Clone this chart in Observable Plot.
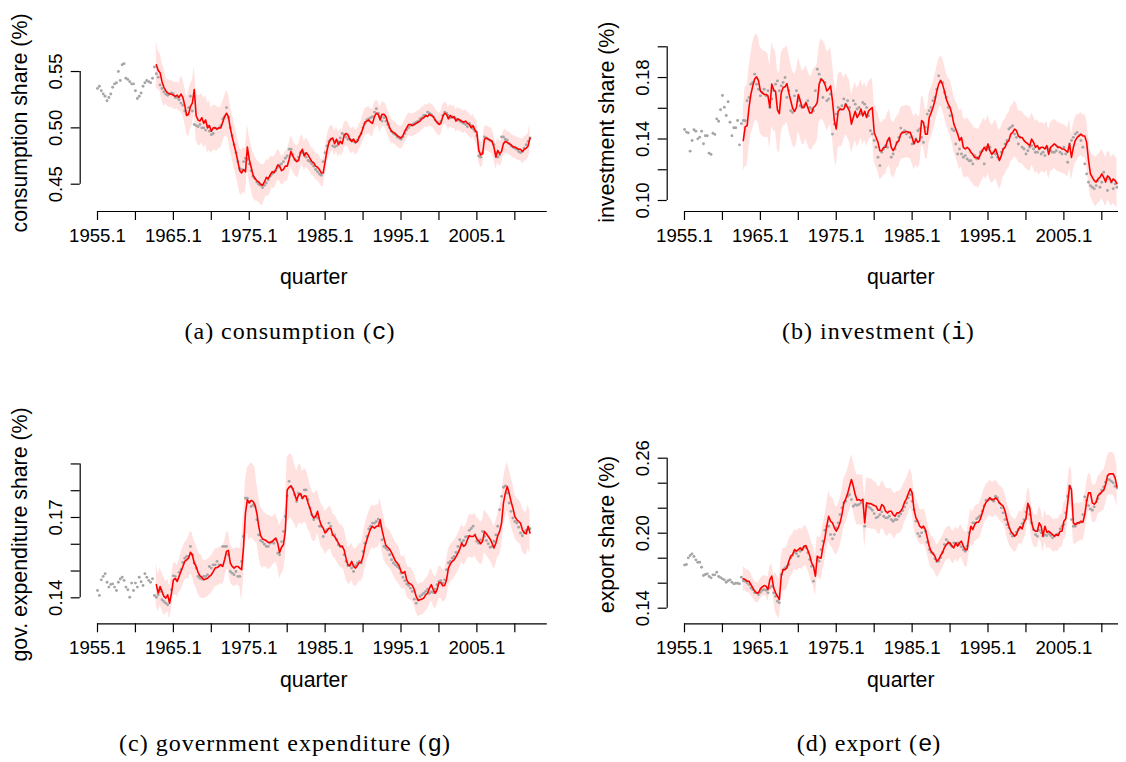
<!DOCTYPE html>
<html><head><meta charset="utf-8">
<script src="https://cdn.jsdelivr.net/npm/d3@7"></script>
<script src="https://cdn.jsdelivr.net/npm/@observablehq/plot@0.6"></script>
<style>
html,body{margin:0;padding:0;background:#fff;overflow:hidden;}
#page{position:relative;width:1126px;height:762px;background:#fff;}
.cell{position:absolute;overflow:hidden;}
#captions{position:absolute;left:0;top:0;}
</style></head><body><div id="page"></div>
<script>
// ---------- time axis ----------
const obsStart = 1955;      // first observed quarter: 1955.1
const fitStart = 1962.75;   // first filtered quarter: 1962.4
const bandStartYear = 1962; // band half-widths are given per year from 1962
const xTickYears  = [1955,1960,1965,1970,1975,1980,1985,1990,1995,2000,2005,2010];
const xTickLabels = ["1955.1","1960.1","1965.1","1970.1","1975.1","1980.1","1985.1","1990.1","1995.1","2000.1","2005.1","2010.1"];
const xTitle = "quarter";

// ---------- (a) consumption ----------
const consTicks  = [0.45,0.50,0.55];
const consLabels = ["0.45","0.50","0.55"];
const consObs = [
.535,.537,.533,.530, .528,.524,.527,.530, .536,.539,.540,.550, .542,.556,.557,.544, .543,.541,.539,.539,
.533,.526,.528,.531, .537,.540,.542,.541, .540,.544,.554,.548, .545,.538,.535,.532, .530,.529,.530,.531,
.530,.527,.527,.525, .522,.520,.515,.512, .518,.528,.515,.503, .502,.501,.503,.500, .500,.498,.502,.497,
.494,.495,.500,.499, .500,.502,.508,.510, .518,.509,.500,.493, .485,.478,.470,.464, .463,.470,.473,.472,
.468,.462,.457,.455, .452,.450,.449,.447, .449,.451,.454,.457, .459,.461,.462,.465, .467,.468,.470,.473,
.475,.481,.481,.476, .472,.471,.474,.478, .478,.477,.474,.471, .470,.468,.466,.463, .461,.459,.458,.470,
.478,.484,.488,.490, .484,.483,.484,.488, .491,.495,.494,.492, .490,.490,.489,.488, .487,.489,.492,.495,
.500,.504,.507,.508, .509,.510,.514,.517, .513,.510,.506,.509, .506,.503,.500,.497, .495,.494,.492,.491,
.490,.492,.495,.498, .500,.502,.503,.504, .505,.506,.508,.509, .511,.511,.514,.513, .512,.510,.507,.505,
.504,.506,.511,.514, .513,.511,.509,.510, .509,.508,.507,.506, .505,.504,.503,.501, .504,.502,.499,.497,
.493,.475,.474,.478, .492,.491,.490,.489, .488,.485,.478,.474, .476,.492,.492,.490, .489,.486,.484,.483,
.482,.481,.479,.478, .479,.482,.485,.488, .491];
const consFit = [.556,
.551,.549,.541,.536, .533,.531,.530,.530, .529,.528,.529,.527, .530,.527,.520,.511, .512,.519,.522,.534,
.511,.507,.506,.509, .504,.507,.500,.502, .497,.500,.500,.499, .500,.500,.505,.510, .513,.510,.500,.492,
.485,.478,.470,.462, .460,.463,.461,.483, .472,.465,.458,.455, .453,.452,.450,.449, .452,.456,.455,.458,
.461,.460,.463,.467, .466,.462,.463,.466, .466,.472,.479,.475, .472,.470,.471,.478, .481,.475,.478,.476,
.473,.470,.469,.466, .465,.463,.460,.460, .470,.480,.487,.490, .491,.486,.490,.485, .488,.486,.493,.495,
.494,.490,.488,.490, .487,.488,.492,.495, .500,.505,.506,.507, .505,.504,.510,.513, .512,.507,.512,.512,
.510,.505,.500,.497, .496,.495,.493,.492, .491,.493,.497,.500, .503,.503,.502,.503, .504,.505,.506,.508,
.509,.511,.510,.512, .511,.510,.507,.505, .503,.504,.510,.513, .512,.508,.511,.509, .510,.506,.508,.507,
.506,.505,.506,.504, .503,.500,.502,.498, .496,.480,.476,.477, .490,.491,.490,.489, .488,.483,.474,.480,
.477,.479,.486,.488, .487,.486,.485,.483, .483,.482,.481,.481, .479,.481,.482,.484, .491];
const consHalf = [.021,.017,.012,.012,.016,.020,.022,.022,.020,.018,.020,.020,.020,.020,.018,.016,.014,.013,.014,.014,
.013,.012,.012,.012,.011,.011,.011,.011,.012,.012,.011,.011,.010,.010,.010,.010,.010,.010,.010,.010,
.010,.010,.010,.011,.011,.011,.011,.010,.010,.011,.012];

// ---------- (b) investment ----------
const invTicks  = [0.10,0.12,0.14,0.16,0.18,0.20];
const invLabels = ["0.10","","0.14","","0.18",""];
const invObs = [
.1462,.1445,.1440,.1321, .1390,.1460,.1451,.1401, .1412,.1451,.1369,.1421, .1421,.1308,.1300,.1438, .1430,.1531,.1516,.1590,
.1683,.1607,.1553,.1642, .1509,.1421,.1473,.1473, .1520,.1362,.1500,.1520, .1519,.1649,.1670,.1757, .1768,.1822,.1757,.1724,
.1681,.1703,.1724,.1681, .1714,.1605,.1660,.1714, .1757,.1778,.1714,.1746, .1768,.1800,.1670,.1714, .1584,.1573,.1681,.1714,
.1649,.1616,.1605,.1616, .1627,.1649,.1605,.1595, .1584,.1714,.1854,.1822, .1789,.1670,.1768,.1649, .1660,.1692,.1432,.1497,
.1562,.1605,.1595,.1616, .1660,.1627,.1649,.1605, .1530,.1649,.1627,.1595, .1605,.1562,.1638,.1627, .1605,.1551,.1454,.1432,
.1390,.1346,.1281,.1227, .1314,.1335,.1357,.1346, .1390,.1281,.1303,.1335, .1378,.1411,.1471,.1443, .1454,.1432,.1443,.1411,
.1368,.1378,.1400,.1454, .1465,.1411,.1378,.1476, .1562,.1584,.1605,.1649, .1670,.1724,.1811,.1778, .1768,.1703,.1670,.1605,
.1551,.1465,.1454,.1368, .1303,.1335,.1303,.1281, .1292,.1270,.1259,.1259, .1238,.1292,.1270,.1281, .1314,.1324,.1238,.1346,
.1335,.1346,.1281,.1314, .1303,.1281,.1270,.1314, .1335,.1368,.1390,.1465, .1476,.1486,.1432,.1411, .1368,.1411,.1346,.1335,
.1303,.1324,.1346,.1357, .1335,.1314,.1314,.1335, .1303,.1314,.1292,.1346, .1335,.1324,.1314,.1314, .1324,.1346,.1314,.1303,
.1346,.1303,.1249,.1368, .1390,.1411,.1432,.1443, .1422,.1390,.1346,.1238, .1173,.1119,.1097,.1086, .1076,.1097,.1130,.1086,
.1119,.1184,.1141,.1065, .1141,.1119,.1076,.1108, .1086];
const invFit = [.1390,
.1480,.1486,.1605,.1690, .1746,.1790,.1805,.1780, .1713,.1700,.1690,.1690, .1680,.1605,.1757,.1720, .1710,.1590,.1565,.1700,
.1735,.1740,.1760,.1700, .1650,.1600,.1580,.1605, .1690,.1650,.1605,.1605, .1638,.1605,.1570,.1570, .1605,.1616,.1638,.1757,
.1790,.1780,.1757,.1713, .1724,.1746,.1650,.1520, .1465,.1580,.1595,.1590, .1595,.1627,.1605,.1580, .1497,.1540,.1580,.1540,
.1560,.1595,.1550,.1580, .1540,.1580,.1595,.1605, .1443,.1410,.1378,.1324, .1324,.1346,.1346,.1390, .1410,.1346,.1324,.1346,
.1378,.1390,.1432,.1443, .1443,.1450,.1443,.1443, .1410,.1368,.1400,.1378, .1390,.1520,.1508,.1432, .1432,.1540,.1570,.1605,
.1650,.1710,.1757,.1780, .1757,.1713,.1660,.1627, .1605,.1560,.1497,.1465, .1432,.1390,.1410,.1346, .1335,.1346,.1335,.1314,
.1300,.1280,.1280,.1270, .1300,.1324,.1346,.1324, .1368,.1324,.1300,.1314, .1335,.1300,.1260,.1290, .1335,.1346,.1378,.1390,
.1432,.1443,.1465,.1454, .1420,.1410,.1410,.1390, .1378,.1368,.1357,.1400, .1378,.1346,.1357,.1335, .1346,.1346,.1335,.1357,
.1300,.1346,.1357,.1368, .1357,.1346,.1346,.1335, .1335,.1324,.1314,.1368, .1280,.1346,.1390,.1410, .1420,.1432,.1420,.1420,
.1378,.1260,.1173,.1150, .1130,.1120,.1140,.1150, .1173,.1150,.1120,.1160, .1150,.1120,.1140,.1130, .1110];
const invHalf = [.020,.026,.028,.028,.027,.026,.025,.024,.024,.024,.025,.026,.025,.024,.020,.019,.019,.019,.019,.018,
.018,.017,.017,.017,.016,.016,.016,.017,.018,.019,.019,.019,.019,.019,.019,.018,.018,.017,.017,.017,
.016,.016,.016,.016,.015,.014,.015,.016,.016,.016,.016];

// ---------- (c) government expenditure ----------
const govTicks  = [0.14,0.15,0.16,0.17,0.18,0.19];
const govLabels = ["0.14","","","0.17","",""];
const govObs = [
.1427,.1409,.1467,.1480, .1490,.1458,.1440,.1450, .1452,.1440,.1427,.1458, .1470,.1477,.1465,.1440, .1430,.1402,.1455,.1427,
.1455,.1440,.1477,.1460, .1446,.1490,.1477,.1465, .1458,.1471,.1409,.1402, .1411,.1424,.1393,.1386, .1380,.1374,.1393,.1430,
.1482,.1480,.1467,.1495, .1505,.1532,.1548,.1554, .1554,.1592,.1561,.1530, .1511,.1480,.1473,.1470, .1480,.1480,.1486,.1517,
.1511,.1523,.1523,.1536, .1523,.1523,.1592,.1592, .1592,.1561,.1498,.1492, .1486,.1498,.1480,.1480, .1536,.1629,.1772,.1772,
.1760,.1741,.1747,.1741, .1692,.1635,.1614,.1608, .1600,.1592,.1592,.1604, .1610,.1604,.1617,.1567, .1561,.1610,.1648,.1704,
.1781,.1835,.1816,.1806, .1785,.1760,.1791,.1785, .1772,.1803,.1803,.1766, .1735,.1710,.1692,.1704, .1698,.1667,.1667,.1629,
.1648,.1654,.1679,.1667, .1635,.1635,.1617,.1598, .1592,.1592,.1561,.1536, .1520,.1521,.1511,.1498, .1521,.1530,.1536,.1530,
.1573,.1604,.1629,.1657, .1667,.1679,.1679,.1685, .1694,.1667,.1617,.1592, .1586,.1579,.1561,.1542, .1530,.1523,.1517,.1511,
.1492,.1477,.1464,.1452, .1446,.1436,.1424,.1395, .1380,.1393,.1405,.1411, .1417,.1424,.1432,.1417, .1422,.1420,.1432,.1449,
.1461,.1464,.1455,.1467, .1505,.1530,.1536,.1548, .1554,.1569,.1592,.1617, .1607,.1614,.1627,.1629, .1652,.1659,.1667,.1635,
.1611,.1604,.1617,.1648, .1629,.1614,.1602,.1589, .1592,.1611,.1635,.1667, .1729,.1779,.1813,.1818, .1791,.1754,.1723,.1698,
.1685,.1679,.1664,.1642, .1632,.1645,.1652,.1658, .1658];
const govFit = [.1449,
.1417,.1442,.1424,.1405, .1399,.1411,.1380,.1417, .1467,.1472,.1461,.1480, .1498,.1517,.1536,.1542, .1548,.1570,.1560,.1530,
.1517,.1495,.1482,.1477, .1467,.1470,.1473,.1480, .1486,.1498,.1511,.1513, .1517,.1523,.1517,.1542, .1573,.1577,.1530,.1517,
.1511,.1517,.1517,.1511, .1505,.1592,.1716,.1766, .1754,.1764,.1760,.1747, .1716,.1667,.1632,.1620, .1617,.1613,.1607,.1607,
.1609,.1617,.1623,.1604, .1569,.1589,.1598,.1648, .1803,.1813,.1818,.1806, .1785,.1764,.1785,.1789, .1772,.1781,.1779,.1754,
.1735,.1710,.1698,.1704, .1723,.1692,.1670,.1660, .1642,.1650,.1660,.1660, .1635,.1629,.1617,.1604, .1592,.1592,.1579,.1548,
.1523,.1520,.1536,.1517, .1511,.1520,.1532,.1532, .1554,.1592,.1617,.1639, .1658,.1667,.1660,.1667, .1667,.1692,.1654,.1623,
.1596,.1589,.1582,.1569, .1554,.1538,.1530,.1520, .1498,.1492,.1498,.1467, .1455,.1452,.1446,.1430, .1405,.1390,.1393,.1395,
.1399,.1411,.1417,.1436, .1449,.1430,.1417,.1430, .1457,.1457,.1445,.1446, .1467,.1511,.1526,.1536, .1542,.1554,.1567,.1583,
.1604,.1592,.1598,.1617, .1632,.1629,.1629,.1635, .1619,.1613,.1602,.1611, .1648,.1639,.1629,.1619, .1604,.1586,.1604,.1632,
.1648,.1679,.1754,.1791, .1816,.1791,.1760,.1735, .1704,.1692,.1685,.1679, .1654,.1642,.1639,.1667, .1642];
const govHalf = [.008,.007,.006,.006,.007,.008,.008,.007,.007,.007,.007,.007,.012,.014,.011,.010,.009,.010,.012,.011,
.010,.009,.008,.008,.008,.008,.007,.007,.008,.008,.008,.007,.007,.006,.006,.006,.006,.006,.006,.007,
.007,.007,.008,.008,.008,.008,.009,.009,.008,.008,.008];

// ---------- (d) export ----------
const expTicks  = [0.14,0.16,0.18,0.20,0.22,0.24,0.26];
const expLabels = ["0.14","","","0.20","","","0.26"];
const expObs = [
.1745,.1750,.1803,.1822, .1835,.1814,.1787,.1768, .1768,.1728,.1662,.1670, .1675,.1654,.1643,.1667, .1667,.1688,.1654,.1645,
.1635,.1627,.1608,.1620, .1627,.1608,.1595,.1600, .1600,.1595,.1648,.1620, .1616,.1603,.1589,.1563, .1549,.1523,.1523,.1509,
.1528,.1544,.1549,.1544, .1523,.1563,.1576,.1523, .1496,.1456,.1443,.1669, .1709,.1723,.1736,.1749, .1803,.1821,.1848,.1837,
.1816,.1856,.1869,.1891, .1883,.1843,.1789,.1736, .1616,.1683,.1789,.1776, .1869,.1936,.2024,.2056, .2056,.1989,.1955,.1989,
.2043,.2083,.2149,.2203, .2243,.2256,.2296,.2309, .2269,.2216,.2229,.2224, .2229,.2243,.2269,.2056, .2221,.2211,.2200,.2184,
.2157,.2123,.2131,.2149, .2171,.2136,.2123,.2123, .2136,.2109,.2096,.2109, .2109,.2136,.2155,.2181, .2211,.2243,.2283,.2309,
.2256,.2189,.2096,.1997, .1976,.2003,.2043,.2016, .1928,.1869,.1848,.1837, .1795,.1773,.1776,.1803, .1848,.1909,.1949,.1931,
.1909,.1896,.1923,.1909, .1923,.1909,.1891,.1869, .1856,.1896,.2003,.2043, .2083,.2083,.2115,.2128, .2141,.2176,.2221,.2264,
.2264,.2280,.2269,.2256, .2296,.2283,.2243,.2203, .2163,.2109,.2069,.2043, .1997,.1976,.1984,.2008, .2029,.2048,.2077,.2109,
.2171,.2200,.2149,.2083, .2029,.1989,.1976,.2024, .2003,.1976,.1987,.1981, .1997,.1981,.1963,.1976, .1989,.1995,.2035,.2056,
.2069,.2163,.2296,.2376, .2109,.2056,.2056,.2075, .2083,.2088,.2149,.2291, .2264,.2221,.2195,.2184, .2211,.2251,.2277,.2317,
.2344,.2371,.2408,.2429, .2429,.2416,.2403,.2376, .2363];
const expFit = [.1635,
.1629,.1616,.1616,.1589, .1563,.1536,.1523,.1523, .1555,.1571,.1581,.1576, .1549,.1629,.1656,.1563, .1523,.1496,.1469,.1656,
.1709,.1709,.1723,.1776, .1816,.1829,.1869,.1856, .1869,.1883,.1864,.1896, .1901,.1864,.1821,.1763, .1736,.1656,.1816,.1803,
.1800,.1890,.1960,.2056, .2136,.2096,.2083,.2043, .2016,.2043,.2083,.2149, .2243,.2275,.2317,.2376, .2429,.2376,.2309,.2264,
.2269,.2259,.2269,.2083, .2243,.2237,.2237,.2229, .2221,.2216,.2184,.2184, .2229,.2216,.2176,.2163, .2176,.2176,.2149,.2136,
.2163,.2163,.2176,.2203, .2248,.2275,.2317,.2355, .2323,.2189,.2123,.2096, .2056,.2043,.2056,.2029, .1963,.1896,.1856,.1837,
.1816,.1776,.1789,.1821, .1843,.1883,.1909,.1923, .1923,.1896,.1883,.1923, .1896,.1923,.1936,.1896, .1869,.1869,.1976,.2056,
.2029,.2069,.2088,.2088, .2115,.2163,.2216,.2248, .2264,.2283,.2269,.2269, .2283,.2269,.2243,.2229, .2216,.2176,.2109,.2056,
.2016,.1997,.1976,.1989, .2029,.2051,.2035,.2088, .2115,.2240,.2203,.2083, .2029,.2016,.2016,.2083, .2056,.1976,.2056,.2008,
.2016,.2003,.1989,.1976, .1989,.1981,.2016,.2016, .2096,.2115,.2243,.2381, .2349,.2083,.2069,.2083, .2083,.2096,.2088,.2149,
.2256,.2323,.2323,.2243, .2232,.2248,.2301,.2315, .2331,.2344,.2389,.2461, .2475,.2475,.2475,.2443, .2371];
const expHalf = [.010,.009,.008,.008,.010,.016,.017,.016,.016,.016,.016,.018,.020,.019,.019,.020,.020,.020,.019,.019,
.018,.017,.016,.015,.014,.013,.013,.013,.013,.013,.014,.014,.014,.014,.014,.014,.013,.013,.013,.013,
.013,.013,.013,.015,.016,.015,.015,.015,.016,.017,.016];

// ---------- captions ----------
const captions = [
  {pre:"(a) consumption (", code:"c", post:")"},
  {pre:"(b) investment (",  code:"i", post:")"},
  {pre:"(c) government expenditure (", code:"g", post:")"},
  {pre:"(d) export (", code:"e", post:")"}
];

// ---------- layout (pixels) ----------
const SANS = "'Liberation Sans', Arial, Helvetica, sans-serif";
const cells = [
  {left:0,     top:0,   clip:583,   frameTop:34,   frameBottom:211,   titleDy:72, capX:290,   capY:339},
  {left:586.7, top:0,   clip:531.3, frameTop:32.4, frameBottom:211,   titleDy:72, capX:878.4, capY:339},
  {left:0,     top:380, clip:583,   frameTop:64.7, frameBottom:243.3, titleDy:63, capX:285,   capY:751},
  {left:586.7, top:380, clip:531.3, frameTop:64.7, frameBottom:243.3, titleDy:63, capX:869,   capY:751}
];
const panels = [
  {obs:consObs, fit:consFit, half:consHalf, ticks:consTicks, labels:consLabels, ylab:"consumption share (%)", yDomain:[0.425770,0.582866]},
  {obs:invObs,  fit:invFit,  half:invHalf,  ticks:invTicks,  labels:invLabels,  ylab:"investment share (%)",  yDomain:[0.092843,0.209040]},
  {obs:govObs,  fit:govFit,  half:govHalf,  ticks:govTicks,  labels:govLabels,  ylab:"gov. expenditure share (%)", yDomain:[0.130288,0.197004]},
  {obs:expObs,  fit:expFit,  half:expHalf,  ticks:expTicks,  labels:expLabels,  ylab:"export share (%)",      yDomain:[0.127520,0.270400]}
];

const page = document.getElementById("page");
const W = 583, H = 380;

panels.forEach((p, k) => {
  const c = cells[k];
  const obs = p.obs.map((v, i) => ({t: obsStart + i / 4, v}));
  const fit = p.fit.map((v, i) => {
    const t = fitStart + i / 4;
    const h = p.half[Math.floor(t + 1e-9) - bandStartYear];
    return {t, v, lo: v - h, hi: v + h};
  });
  const t0 = d3.min(obs, d => d.t), t1 = d3.max(obs, d => d.t);
  const pad = (t1 - t0) * 0.04;
  const xDomain = [t0 - pad, t1 + pad];
  const yLab = p.ticks.map((v, i) => ({v, s: p.labels[i]})).filter(d => d.s !== "");

  const chart = Plot.plot({
    width: W, height: H,
    marginLeft: 79.7, marginRight: 36.2,
    marginTop: c.frameTop, marginBottom: H - c.frameBottom,
    x: {domain: xDomain},
    y: {domain: p.yDomain},
    style: {fontFamily: SANS, fontSize: "18.6px", background: "transparent", overflow: "visible", maxWidth: "none", color: "#000"},
    marks: [
      Plot.areaY(fit, {x: "t", y1: "lo", y2: "hi", fill: "#ffe1e0"}),
      Plot.dot(obs, {x: "t", y: "v", r: 1.45, fill: "#a6a6a6"}),
      Plot.lineY(fit, {x: "t", y: "v", stroke: "#ff0000", strokeWidth: 1.6}),
      Plot.ruleY([p.yDomain[0]], {x1: xTickYears[0], x2: xDomain[1], stroke: "#000", strokeWidth: 1.2}),
      Plot.axisX({ticks: xTickYears, tickSize: 9, tickPadding: 8, label: null, fontSize: 18.6, strokeWidth: 1.2,
        tickFormat: d => { const i = xTickYears.indexOf(d); return i % 2 === 0 ? xTickLabels[i] : ""; }}),
      Plot.ruleX([xDomain[0]], {y1: p.ticks[0], y2: p.ticks[p.ticks.length - 1], stroke: "#000", strokeWidth: 1.2}),
      Plot.axisY({ticks: p.ticks, tickSize: 9, tickFormat: () => "", label: null, strokeWidth: 1.2}),
      Plot.text(yLab, {y: "v", text: "s", frameAnchor: "left", dx: -18.5, rotate: -90, lineAnchor: "bottom", textAnchor: "middle", fontSize: 18.6}),
      Plot.text([p.ylab], {frameAnchor: "left", dx: -53.5, rotate: -90, lineAnchor: "bottom", textAnchor: "middle", fontSize: 21.3}),
      Plot.text([xTitle], {frameAnchor: "bottom", dy: c.titleDy, lineAnchor: "bottom", textAnchor: "middle", fontSize: 21.3})
    ]
  });
  const div = document.createElement("div");
  div.className = "cell";
  div.style.left = c.left + "px";
  div.style.top = c.top + "px";
  div.style.width = c.clip + "px";
  div.style.height = H + "px";
  div.appendChild(chart);
  page.appendChild(div);
});

// captions as real text below each panel
const svg = d3.select(page).append("svg").attr("id", "captions").attr("width", 1126).attr("height", 762);
captions.forEach((cap, k) => {
  const c = cells[k];
  const t = svg.append("text").attr("x", c.capX).attr("y", c.capY)
    .attr("text-anchor", "middle")
    .style("font-family", "'Liberation Serif', 'Times New Roman', serif")
    .style("font-size", "24px").style("letter-spacing", "1px").attr("fill", "#000");
  t.append("tspan").text(cap.pre);
  t.append("tspan").style("font-family", "'Liberation Mono', 'DejaVu Sans Mono', monospace").style("letter-spacing", "0px").text(cap.code);
  t.append("tspan").text(cap.post);
});
</script></body></html>
